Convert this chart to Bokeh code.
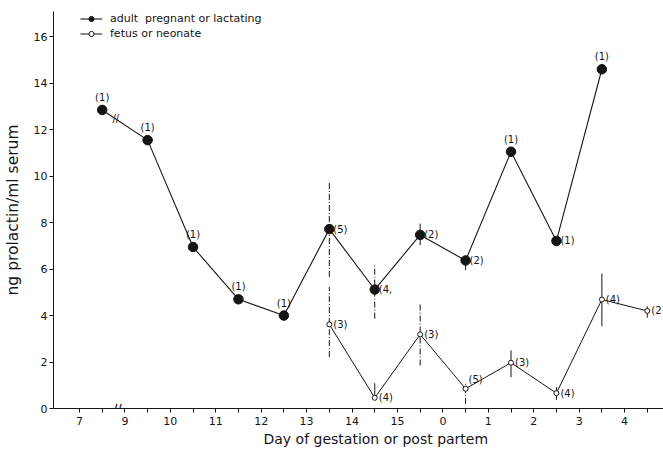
from bokeh.plotting import figure
from bokeh.models import ColumnDataSource, FixedTicker, Legend, LegendItem, Title
from bokeh.core.properties import value
from bokeh.embed import file_html
from bokeh.resources import INLINE

# ---- data ----
day_labels = ["7", "9", "10", "11", "12", "13", "14", "15", "0", "1", "2", "3", "4"]
y_ticks = [0, 2, 4, 6, 8, 10, 12, 14, 16]

adult_pos = [0.5, 1.5, 2.5, 3.5, 4.5, 5.5, 6.5, 7.5, 8.5, 9.5, 10.5, 11.5]
adult_val = [12.85, 11.55, 6.95, 4.7, 4.0, 7.72, 5.12, 7.47, 6.37, 11.05, 7.21, 14.6]
adult_n = ["(1)", "(1)", "(1)", "(1)", "(1)", "(5)", "(4,", "(2)", "(2)", "(1)", "(1)", "(1)"]
adult_err_lo = [None, None, None, None, None, 5.66, 3.87, 7.03, 5.95, None, None, None]
adult_err_hi = [None, None, None, None, None, 9.76, 6.24, 7.96, 6.52, None, None, None]

fetus_pos = [5.5, 6.5, 7.5, 8.5, 9.5, 10.5, 11.5, 12.5]
fetus_val = [3.62, 0.46, 3.19, 0.85, 1.97, 0.66, 4.69, 4.2]
fetus_n = ["(3)", "(4)", "(3)", "(5)", "(3)", "(4)", "(4)", "(2"]
fetus_err_lo = [2.21, 0.46, 1.85, 0.2, 1.35, 0.37, 3.54, 3.91]
fetus_err_hi = [5.23, 1.09, 4.48, 1.06, 2.5, 0.92, 5.81, 4.4]

# ---- styling (kept separate from the data) ----
adult_err_dashed = [False, False, False, False, False, True, True, False, False, False, False, False]
fetus_err_dashed = [True, False, True, True, False, False, False, False]
adult_label_side = ["above", "above", "above", "above", "above", "right", "right",
                    "right", "right", "above", "right", "above"]
fetus_label_side = ["right", "right", "right", "upright", "right", "right", "right", "right"]

INK = "#151515"
FONT = "DejaVu Sans"

p = figure(width=663, height=450, output_backend="svg", toolbar_location=None,
           x_range=(-0.572, 12.857), y_range=(0, 17.086),
           min_border_left=53, min_border_right=0, min_border_top=11, min_border_bottom=42)
p.outline_line_color = None
p.xgrid.visible = False
p.ygrid.visible = False
p.background_fill_color = "white"
p.border_fill_color = "white"

# x axis
xa = p.xaxis[0]
xa.ticker = FixedTicker(ticks=list(range(len(day_labels))),
                        minor_ticks=[i + 0.5 for i in range(len(day_labels))])
xa.major_label_overrides = {i: lab for i, lab in enumerate(day_labels)}
xa.major_tick_in = 0
xa.major_tick_out = 4
xa.minor_tick_in = 0
xa.minor_tick_out = 4
xa.minor_tick_line_color = INK
xa.major_tick_line_color = INK
xa.axis_line_color = INK
xa.major_label_text_font = FONT
xa.major_label_text_font_size = "11px"
xa.major_label_text_color = INK
xa.major_label_standoff = 4

p.add_layout(Title(text="Day of gestation or post partem", align="left", offset=210,
                   standoff=3, text_font=FONT, text_font_size="14px",
                   text_font_style="normal", text_color=INK), "below")

# y axis
ya = p.yaxis[0]
ya.ticker = FixedTicker(ticks=y_ticks)
ya.minor_tick_line_color = None
ya.major_tick_in = 0
ya.major_tick_out = 4
ya.major_tick_line_color = INK
ya.axis_line_color = INK
ya.major_label_text_font = FONT
ya.major_label_text_font_size = "11px"
ya.major_label_text_color = INK
ya.major_label_standoff = 2
ya.axis_label = "ng prolactin/ml serum"
ya.axis_label_text_font = FONT
ya.axis_label_text_font_size = "15.5px"
ya.axis_label_text_font_style = "normal"
ya.axis_label_text_color = INK
ya.axis_label_standoff = 9


def err_source(pos, lo, hi, dashed, want):
    xs, y0, y1 = [], [], []
    for x, a, b, d in zip(pos, lo, hi, dashed):
        if a is None or d != want:
            continue
        xs.append(x); y0.append(a); y1.append(b)
    return ColumnDataSource(dict(x=xs, y0=y0, y1=y1))


for pos, lo, hi, dashed in [(adult_pos, adult_err_lo, adult_err_hi, adult_err_dashed),
                            (fetus_pos, fetus_err_lo, fetus_err_hi, fetus_err_dashed)]:
    s_solid = err_source(pos, lo, hi, dashed, False)
    s_dash = err_source(pos, lo, hi, dashed, True)
    p.segment(x0="x", y0="y0", x1="x", y1="y1", source=s_solid, line_color=INK, line_width=1)
    p.segment(x0="x", y0="y0", x1="x", y1="y1", source=s_dash, line_color=INK,
              line_width=1, line_dash="6 2 1 2")

# series
adult_src = ColumnDataSource(dict(x=adult_pos, y=adult_val))
fetus_src = ColumnDataSource(dict(x=fetus_pos, y=fetus_val))

a_line = p.line("x", "y", source=adult_src, line_color=INK, line_width=1.1)
a_pts = p.scatter("x", "y", source=adult_src, marker="circle", size=9.5,
                  fill_color=INK, line_color=INK)
f_line = p.line("x", "y", source=fetus_src, line_color=INK, line_width=1)
f_pts = p.scatter("x", "y", source=fetus_src, marker="circle", size=5,
                  fill_color="white", line_color=INK, line_width=1)

# axis break marks
bx = adult_pos[0] + 0.3 * (adult_pos[1] - adult_pos[0])
by = adult_val[0] + 0.3 * (adult_val[1] - adult_val[0])
p.text(x=[bx], y=[by], text=["//"], text_font=value(FONT), text_font_size="10px",
       text_align="center", text_baseline="middle", text_color=INK)
p.text(x=[0.84], y=[0], text=["//"], text_font=value(FONT), text_font_size="11px",
       text_font_style="bold", text_align="center", text_baseline="middle", text_color=INK)


def label_source(pos, val, n, side):
    xo, yo, al, bl = [], [], [], []
    for s in side:
        if s == "above":
            xo.append(0); yo.append(-7); al.append("center"); bl.append("bottom")
        elif s == "upright":
            xo.append(3); yo.append(-4); al.append("left"); bl.append("bottom")
        else:
            xo.append(4); yo.append(0); al.append("left"); bl.append("middle")
    return ColumnDataSource(dict(x=pos, y=val, t=n, xo=xo, yo=yo, al=al, bl=bl))


for pos, val, n, side in [(adult_pos, adult_val, adult_n, adult_label_side),
                          (fetus_pos, fetus_val, fetus_n, fetus_label_side)]:
    p.text(x="x", y="y", text="t", source=label_source(pos, val, n, side),
           x_offset="xo", y_offset="yo", text_align="al", text_baseline="bl",
           text_font=value(FONT), text_font_size="10px", text_color=INK)

legend = Legend(items=[LegendItem(label="adult  pregnant or lactating", renderers=[a_line, a_pts]),
                       LegendItem(label="fetus or neonate", renderers=[f_line, f_pts])],
                location=(27, 368), orientation="vertical",
                background_fill_alpha=0, border_line_color=None,
                padding=0, margin=0, spacing=2,
                glyph_width=22, glyph_height=13, label_height=13, label_standoff=8,
                label_text_font=FONT, label_text_font_size="11px", label_text_color=INK)
p.add_layout(legend)

open("out.html", "w").write(file_html(p, INLINE))
